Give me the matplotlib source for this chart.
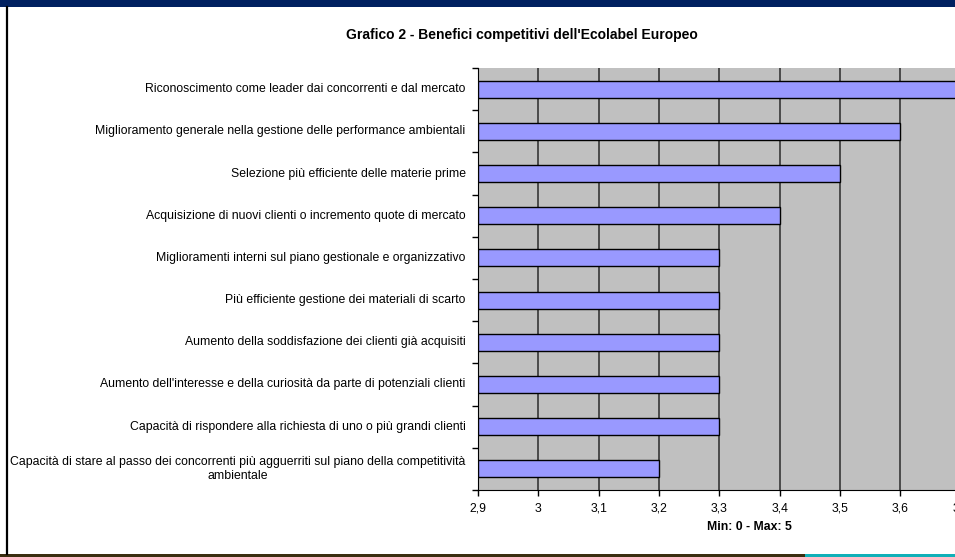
import matplotlib
matplotlib.use("Agg")
import matplotlib.pyplot as plt
from matplotlib.patches import Rectangle
from matplotlib.lines import Line2D

plt.rcParams['font.family'] = ['Liberation Sans', 'DejaVu Sans']

categories = [
    "Riconoscimento come leader dai concorrenti e dal mercato",
    "Miglioramento generale nella gestione delle performance ambientali",
    "Selezione più efficiente delle materie prime",
    "Acquisizione di nuovi clienti o incremento quote di mercato",
    "Miglioramenti interni sul piano gestionale e organizzativo",
    "Più efficiente gestione dei materiali di scarto",
    "Aumento della soddisfazione dei clienti già acquisiti",
    "Aumento dell'interesse e della curiosità da parte di potenziali clienti",
    "Capacità di rispondere alla richiesta di uno o più grandi clienti",
    "Capacità di stare al passo dei concorrenti più agguerriti sul piano della competitività\nambientale",
]
values = [3.7, 3.6, 3.5, 3.4, 3.3, 3.3, 3.3, 3.3, 3.3, 3.2]
xticks = [2.9, 3.0, 3.1, 3.2, 3.3, 3.4, 3.5, 3.6, 3.7, 3.8]
xticklabels = ["2,9", "3", "3,1", "3,2", "3,3", "3,4", "3,5", "3,6", "3,7", "3,8"]

W, H = 955, 557
FS = 8.8
fig = plt.figure(figsize=(W / 100, H / 100), dpi=100)
fig.patch.set_facecolor('white')

ax = fig.add_axes([478 / W, 67 / H, 543 / W, 422 / H])
ax.set_facecolor('#C0C0C0')
n = len(categories)
ypos = list(range(n))
ax.barh(ypos, [v - 2.9 for v in values], left=2.9, height=0.4,
        color='#9999FF', edgecolor='black', linewidth=1.0, zorder=3)
ax.set_xlim(2.9, 3.8)
ax.set_ylim(n - 0.5, -0.5)
ax.set_xticks(xticks)
ax.set_xticklabels(xticklabels, fontsize=FS)
ax.xaxis.grid(True, color='#2a2a2a', linewidth=1.1, zorder=1)
ax.set_axisbelow(True)
ax.set_yticks([i - 0.5 for i in range(n + 1)])
ax.set_yticklabels([])
ax.tick_params(axis='y', length=4, width=1, color='black', direction='out')
ax.tick_params(axis='x', length=4, width=1, color='black', direction='out', pad=5)
for s in ['top', 'right']:
    ax.spines[s].set_visible(False)
ax.spines['left'].set_color('black')
ax.spines['bottom'].set_color('black')
for i, lab in enumerate(categories):
    ax.annotate(lab, xy=(0, i), xycoords=ax.get_yaxis_transform(),
                xytext=(-9, 0), textcoords='offset points',
                ha='right', va='center', multialignment='center', fontsize=FS)
ax.set_xlabel("Min: 0 - Max: 5", fontsize=FS, fontweight='bold', labelpad=5)

fig.text(522 / W, 1 - 35 / H, "Grafico 2 - Benefici competitivi dell'Ecolabel Europeo",
         ha='center', va='center', fontsize=10, fontweight='bold')

# frame decorations
fig.patches.append(Rectangle((0, 1 - 7 / H), 1, 7 / H, transform=fig.transFigure,
                             facecolor='#002060', edgecolor='none'))
fig.lines.append(Line2D([6.5 / W, 6.5 / W], [3 / H, 1 - 7 / H], transform=fig.transFigure,
                        color='black', linewidth=1.6))
fig.patches.append(Rectangle((0, 0), 805 / W, 3 / H, transform=fig.transFigure,
                             facecolor='#3B2E10', edgecolor='none'))
fig.patches.append(Rectangle((805 / W, 0), 150 / W, 3 / H, transform=fig.transFigure,
                             facecolor='#10B0B8', edgecolor='none'))

fig.savefig("out.png", dpi=100)
